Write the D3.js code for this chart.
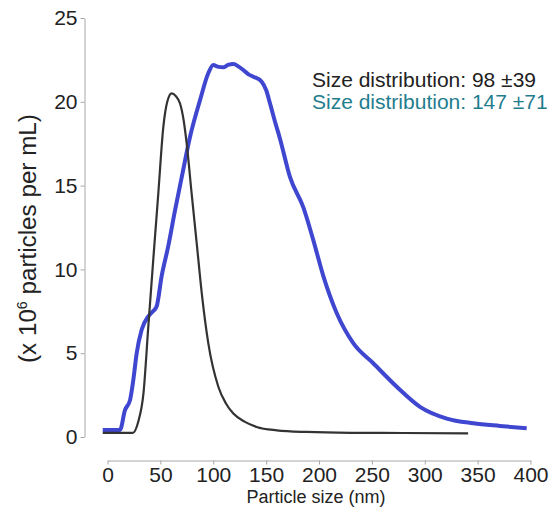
<!DOCTYPE html>
<html>
<head>
<meta charset="utf-8">
<script src="https://cdn.jsdelivr.net/npm/d3@7"></script>
<style>
  body { margin: 0; background: #fff; }
  text { font-family: "Liberation Sans", Arial, sans-serif; }
</style>
</head>
<body>
<div id="chart"></div>
<script>
// ------------- DATA ------------- //
// black curve (98 +/- 39)
var blackX = [-4.5, 10, 24, 29, 34, 38.6, 43.3, 48, 52.8, 56.5, 60.7, 64.5, 68.6, 72, 74.9, 79.6, 84.3, 89.1, 95.3, 104.8, 112, 119, 130, 141, 160, 188, 230, 280, 341];
var blackY = [0.25, 0.25, 0.25, 0.9, 2.6, 6.6, 10.6, 14.5, 18.5, 20.0, 20.5, 20.35, 19.9, 18.9, 17.5, 14.5, 11.6, 8.6, 5.6, 3.0, 2.0, 1.4, 0.9, 0.6, 0.4, 0.3, 0.25, 0.24, 0.22];

// blue curve (147 +/- 71)
var blueX = [-4.5, 11.8, 16.5, 21.3, 24.4, 27.6, 32.3, 38.6, 43, 46.5, 51.2, 57.5, 63.8, 70.2, 78, 87.5, 95.3, 100, 104, 109.5, 114, 119, 124, 128.4, 133, 137.9, 145.8, 150, 153.7, 158, 163.1, 172.6, 185.2, 194.6, 204.1, 216.7, 232.4, 251.3, 273.5, 295.5, 320.8, 346, 371, 396.4];
var blueY = [0.42, 0.42, 1.6, 2.2, 3.4, 5.0, 6.4, 7.2, 7.5, 7.8, 9.6, 11.4, 13.5, 15.5, 17.9, 20.1, 21.7, 22.2, 22.1, 22.06, 22.2, 22.25, 22.1, 21.9, 21.65, 21.5, 21.2, 20.7, 19.9, 18.9, 17.8, 15.5, 13.7, 11.75, 9.6, 7.4, 5.6, 4.4, 3.0, 1.8, 1.1, 0.82, 0.66, 0.52];

var xTicks = [0, 50, 100, 150, 200, 250, 300, 350, 400];
var yTicks = [0, 5, 10, 15, 20, 25];

var legendLabels = ["Size distribution: 98 \u00b139", "Size distribution: 147 \u00b171"];
var legendColors = ["#222222", "#1f7d8e"];

// ------------- SETUP ------------- //
var width = 551, height = 508;

var svg = d3.select("#chart").append("svg")
  .attr("width", width)
  .attr("height", height);

var x = d3.scaleLinear().domain([0, 400]).range([107.5, 530.5]);
var y = d3.scaleLinear().domain([0, 25]).range([437, 18]);

// x axis
var xAxis = svg.append("g")
  .attr("transform", "translate(0,460.5)")
  .call(d3.axisBottom(x).tickValues(xTicks).tickSize(4).tickPadding(3).tickSizeOuter(0));

// y axis
var yAxis = svg.append("g")
  .attr("transform", "translate(84.5,0)")
  .call(d3.axisLeft(y).tickValues(yTicks).tickSize(4).tickPadding(3).tickSizeOuter(0));

[xAxis, yAxis].forEach(function(g) {
  g.select(".domain").attr("stroke", "#a8a8a8");
  g.selectAll(".tick line").attr("stroke", "#a8a8a8");
  g.selectAll(".tick text")
    .attr("fill", "#222")
    .style("font-size", "21px")
    .style("font-family", "'Liberation Sans', Arial, sans-serif");
});

// axis titles
svg.append("text")
  .attr("x", 316)
  .attr("y", 503)
  .attr("text-anchor", "middle")
  .attr("fill", "#222")
  .style("font-size", "18px")
  .text("Particle size (nm)");

// y title: start at bottom, squeeze to the length seen in the picture
var yTitle = svg.append("text")
  .attr("text-anchor", "start")
  .attr("fill", "#222")
  .style("font-size", "24px");
yTitle.append("tspan").text("(x 10");
yTitle.append("tspan").attr("dy", -9).style("font-size", "14px").text("6");
yTitle.append("tspan").attr("dy", 9).text(" particles per mL)");
var titleLen = yTitle.node().getComputedTextLength();
yTitle.attr("transform", "translate(35.5,363) rotate(-90) scale(" + (249 / titleLen) + ",1)");

// ------------- LINES ------------- //
var line = d3.line()
  .x(function(d) { return x(d[0]); })
  .y(function(d) { return y(d[1]); })
  .curve(d3.curveMonotoneX);

var blueData = blueX.map(function(v, i) { return [v, blueY[i]]; });
var blackData = blackX.map(function(v, i) { return [v, blackY[i]]; });

svg.append("path")
  .attr("d", line(blueData))
  .attr("fill", "none")
  .attr("stroke", "#3f46cf")
  .attr("stroke-width", 4)
  .attr("stroke-linejoin", "round");

svg.append("path")
  .attr("d", line(blackData))
  .attr("fill", "none")
  .attr("stroke", "#333")
  .attr("stroke-width", 2.2)
  .attr("stroke-linejoin", "round");

// ------------- LEGEND ------------- //
svg.selectAll(".legend")
  .data(legendLabels)
  .enter().append("text")
  .attr("class", "legend")
  .attr("x", 312)
  .attr("y", function(d, i) { return 87 + i * 22; })
  .attr("fill", function(d, i) { return legendColors[i]; })
  .style("font-size", "21px")
  .text(function(d) { return d; });
</script>
</body>
</html>
